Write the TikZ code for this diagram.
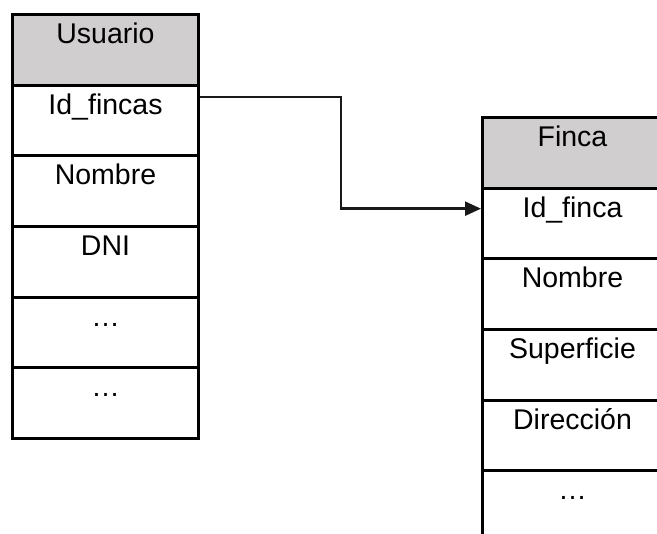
\documentclass[tikz,border=0pt]{standalone}
\usepackage{fontspec}
\setmainfont{Liberation Sans}
\usetikzlibrary{arrows.meta,calc}
\definecolor{hdrgray}{RGB}{208,206,206}
\begin{document}
\begin{tikzpicture}[x=1pt,y=-1pt,
  cellbase/.style={draw=black, line width=3pt, rectangle, inner sep=0pt,
    text height=29pt, text depth=41.67pt, anchor=north west,
    font=\fontsize{28.5}{30}\selectfont},
  lcell/.style={cellbase, minimum width=186pt},
  rcell/.style={cellbase, minimum width=180pt},
  hdr/.style={fill=hdrgray},
  link/.style={draw=black!90, line width=2.4pt, -{Triangle[length=16pt,width=14pt]}}
]
\useasboundingbox (0,0) rectangle (657,534);
\clip (0,0) rectangle (657,534);
% Usuario table
\node[lcell,hdr] (uh)  at (11,13)       {Usuario};
\node[lcell]     (uid) at (11,83.67)    {Id\_fincas};
\node[lcell]     (unm) at (11,154.33)   {Nombre};
\node[lcell]     (udn) at (11,225)      {DNI};
\node[lcell]     (ue1) at (11,295.67)   {…};
\node[lcell]     (ue2) at (11,366.33)   {…};
% Finca table
\node[rcell,hdr] (fh)  at (481,116)     {Finca};
\node[rcell]     (fid) at (481,186.67)  {Id\_finca};
\node[rcell]     (fnm) at (481,257.33)  {Nombre};
\node[rcell]     (fsp) at (481,328)     {Superficie};
\node[rcell]     (fdr) at (481,398.67)  {Dirección};
\node[rcell]     (fe1) at (481,469.33)  {…};
% connector
\draw[link] ([yshift=-13.5pt]uid.north east) -- ++(141pt,0) |- ([yshift=-22pt]fid.north west);
\end{tikzpicture}
\end{document}
